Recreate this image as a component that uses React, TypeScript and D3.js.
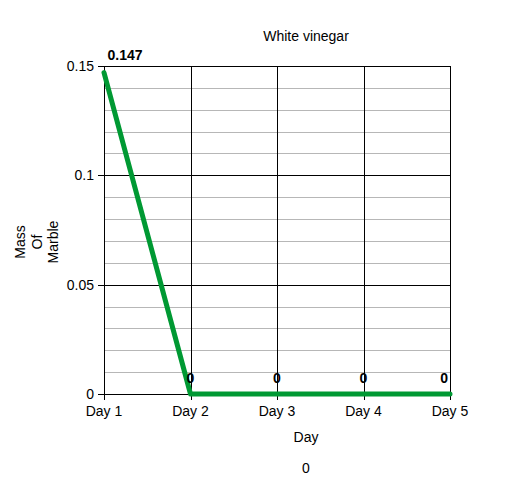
import React from "react";
import * as d3 from "d3";

const days = ["Day 1", "Day 2", "Day 3", "Day 4", "Day 5"];
const mass = [0.147, 0, 0, 0, 0];
const majorTicks = [0, 0.05, 0.1, 0.15];
const minorTicks = d3.range(0, 0.1501, 0.01);

const W = 516, H = 497;
const m = { left: 104, right: 66, top: 66, bottom: 103 };
const FONT = "'Liberation Sans', Arial, sans-serif";

export default function App() {
  const x = d3.scalePoint<string>().domain(days).range([m.left, W - m.right]);
  const y = d3.scaleLinear().domain([0, 0.15]).range([H - m.bottom, m.top]);
  const line = d3.line<number>().x((_, i) => x(days[i])!).y(d => y(d));
  const x0 = m.left, x1 = W - m.right, y0 = H - m.bottom, y1 = m.top;
  const fmt = (v: number) => (v === 0 ? "0" : String(+v.toFixed(2)));
  return (
    <svg width={W} height={H} style={{ position: "absolute", left: 0, top: 0 }} fontFamily={FONT}>
      <rect width={W} height={H} fill="#fff" />
      <text x={306} y={41} fontSize={14} textAnchor="middle" fill="#000">White vinegar</text>
      {minorTicks.map((t, i) => (
        <line key={"mn" + i} x1={x0} x2={x1} y1={Math.round(y(t)) + 0.5} y2={Math.round(y(t)) + 0.5} stroke="#b7b7b7" strokeWidth={1} />
      ))}
      {majorTicks.map((t, i) => (
        <g key={"mj" + i}>
          <line x1={x0 - 6} x2={x1} y1={Math.round(y(t)) + 0.5} y2={Math.round(y(t)) + 0.5} stroke="#000" strokeWidth={1} />
          <text x={x0 - 10} y={y(t) + 5} fontSize={14} textAnchor="end" fill="#000">{fmt(t)}</text>
        </g>
      ))}
      {days.map((d, i) => (
        <g key={"d" + i}>
          <line x1={Math.round(x(d)!) + 0.5} x2={Math.round(x(d)!) + 0.5} y1={y1} y2={y0 + 6} stroke="#000" strokeWidth={1} />
          <text x={x(d)!} y={y0 + 22} fontSize={14} textAnchor="middle" fill="#000">{d}</text>
        </g>
      ))}
      <path d={line(mass)!} fill="none" stroke="#009933" strokeWidth={5} strokeLinejoin="round" strokeLinecap="round" />
      {mass.map((v, i) => {
        const px = x(days[i])!;
        const isFirst = i === 0;
        const isLast = i === mass.length - 1;
        return (
          <text key={"lb" + i}
            x={isFirst ? px + 3.5 : isLast ? px - 2 : px}
            y={y(v) - (isFirst ? 12.5 : 11)}
            fontSize={14} fontWeight="bold"
            textAnchor={isFirst ? "start" : isLast ? "end" : "middle"} fill="#000">{String(v)}</text>
        );
      })}
      <text x={306} y={442} fontSize={14} textAnchor="middle" fill="#000">Day</text>
      <text x={306} y={473} fontSize={14} textAnchor="middle" fill="#000">0</text>
      <text transform="translate(25.3,242) rotate(-90)" fontSize={14} textAnchor="middle" fill="#000">
        <tspan x={0} dy={0}>Mass</tspan>
        <tspan x={0} dy={16.5}>Of</tspan>
        <tspan x={0} dy={16.5}>Marble</tspan>
      </text>
    </svg>
  );
}
